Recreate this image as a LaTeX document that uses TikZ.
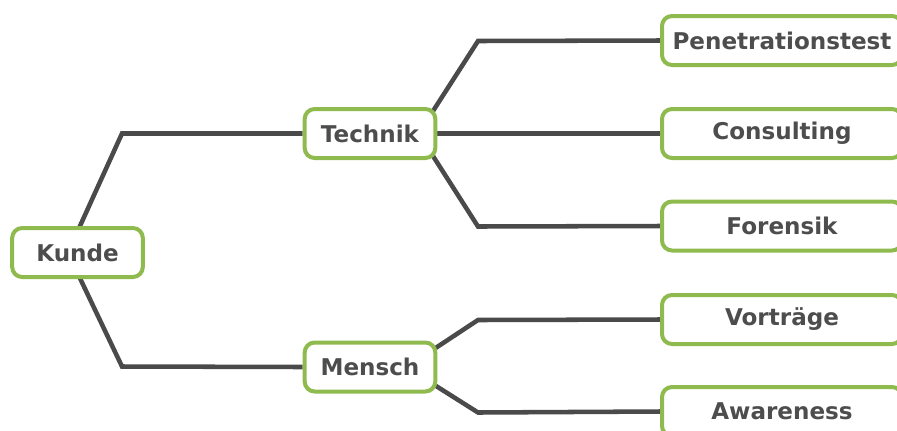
\documentclass[tikz,border=0pt]{standalone}
\usepackage{fontspec}
\setmainfont{DejaVu Sans}
\usetikzlibrary{backgrounds}
\definecolor{boxgreen}{HTML}{8FBA4E}
\definecolor{linegray}{HTML}{4A4A4A}
\definecolor{txtgray}{HTML}{4D4D4D}
\begin{document}
\begin{tikzpicture}[x=0.75pt,y=-0.75pt,
  box/.style={draw=boxgreen,line width=3pt,rounded corners=7.5pt,fill=white,
    text=txtgray,font=\fontsize{17.3}{20}\selectfont\bfseries,inner sep=0pt,
    minimum height=36.75pt},
  small/.style={box,minimum width=98pt},
  leaf/.style={box,minimum width=180pt},
  conn/.style={draw=linegray,line width=3.4pt}]
\path[use as bounding box] (0,0) rectangle (897,430);
\clip (0,0) rectangle (897,430);
\node[small] (kunde) at (77.5,252.5) {Kunde};
\node[small] (technik) at (370,133.5) {Technik};
\node[small] (mensch) at (370,367) {Mensch};
\node[leaf] (pen) at (782,40.5) {Penetrationstest};
\node[leaf] (cons) at (782,133.5) {Consulting};
\node[leaf] (for) at (782,226) {Forensik};
\node[leaf] (vor) at (782,319.5) {Vorträge};
\node[leaf] (aw) at (782,411.5) {Awareness};
\coordinate (k1) at (122,133.5);
\coordinate (k2) at (122,366.5);
\coordinate (t1) at (478,41);
\coordinate (t3) at (478,226.5);
\coordinate (m1) at (478,320);
\coordinate (m2) at (478,412.5);
\begin{scope}[on background layer]
\draw[conn] (kunde.center) ++(-5,-10) coordinate (ks1) -- (k1) -- (technik.west);
\draw[conn] (kunde.center) ++(-5,10) coordinate (ks2) -- (k2) -- (mensch.west);
\draw[conn] (technik.center) ++(55,-10) coordinate (ts1) -- (t1) -- (pen.west);
\draw[conn] (technik.east) -- (cons.west);
\draw[conn] (technik.center) ++(55,10) coordinate (ts3) -- (t3) -- (for.west);
\draw[conn] (mensch.center) ++(55,-12) coordinate (ms1) -- (m1) -- (vor.west);
\draw[conn] (mensch.center) ++(55,12) coordinate (ms2) -- (m2) -- (aw.west);
\end{scope}
\end{tikzpicture}
\end{document}
